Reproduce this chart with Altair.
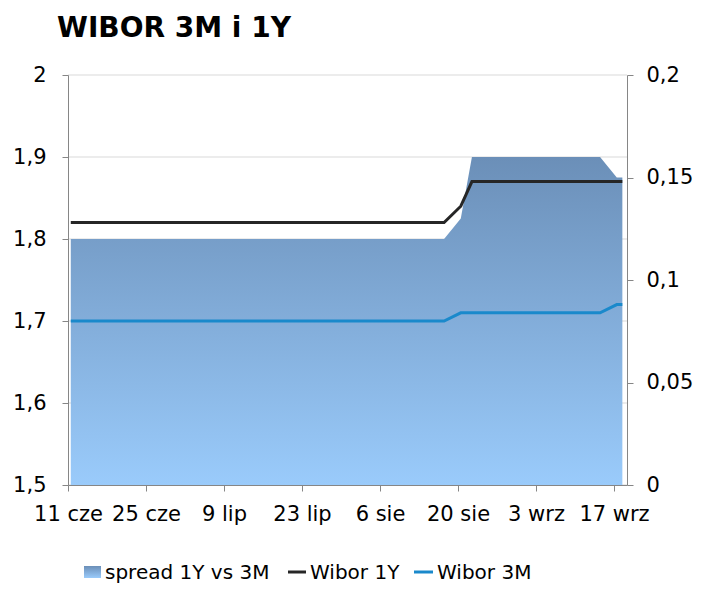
import altair as alt
import pandas as pd

# ---- data ----
dates = ["2012-06-11", "2012-08-17", "2012-08-20", "2012-08-21", "2012-08-22",
         "2012-09-14", "2012-09-17", "2012-09-18"]
wibor_1y = [1.82, 1.82, 1.84, 1.855, 1.87, 1.87, 1.87, 1.87]
wibor_3m = [1.70, 1.70, 1.71, 1.71, 1.71, 1.71, 1.72, 1.72]
spread = [0.12, 0.12, 0.13, 0.145, 0.16, 0.16, 0.15, 0.15]

series_names = ["spread 1Y vs 3M", "Wibor 1Y", "Wibor 3M"]
title_text = "WIBOR 3M i 1Y"
left_ticks = [1.5, 1.6, 1.7, 1.8, 1.9, 2.0]
right_ticks = [0, 0.05, 0.1, 0.15, 0.2]
x_tick_dates = [(2012, 6, 11), (2012, 6, 25), (2012, 7, 9), (2012, 7, 23),
                (2012, 8, 6), (2012, 8, 20), (2012, 9, 3), (2012, 9, 17)]
months_pl = ["sty", "lut", "mar", "kwi", "maj", "cze", "lip", "sie", "wrz", "paź", "lis", "gru"]

df = pd.DataFrame({"date": dates, "wibor_1y": wibor_1y, "wibor_3m": wibor_3m, "spread": spread})

FONT = "DejaVu Sans"
AXIS_GRAY = "#868686"
C_1Y = "#262626"
C_3M = "#1a89cb"
grad = alt.Gradient(
    gradient="linear",
    stops=[alt.GradientStop(color="#6b8fb8", offset=0),
           alt.GradientStop(color="#9acbfb", offset=1)],
    x1=1, x2=1, y1=0, y2=1,
)

month_arr = "[" + ",".join("'" + m + "'" for m in months_pl) + "]"
x_axis = alt.Axis(
    values=[alt.DateTime(year=y, month=m, date=d, utc=True) for (y, m, d) in x_tick_dates],
    labelExpr="utcdate(datum.value) + ' ' + " + month_arr + "[utcmonth(datum.value)]",
    orient="bottom", grid=False, tickSize=6, tickColor=AXIS_GRAY, domainColor=AXIS_GRAY,
    labelFont=FONT, labelFontSize=21, labelColor="black", labelPadding=12,
    labelOverlap=False, labelFlush=False, labelBound=False, labelAngle=0,
    title=None, zindex=1,
)
X = alt.X("t:T", scale=alt.Scale(type="utc", domain=[
    alt.DateTime(year=2012, month=6, date=11, utc=True),
    alt.DateTime(year=2012, month=9, date=19, hours=8, utc=True)]), axis=x_axis)

left_scale = alt.Scale(domain=[1.5, 2.0], nice=False, zero=False)
left_axis = alt.Axis(
    values=left_ticks, orient="left", grid=False,
    labelExpr="replace(format(datum.value, '.1~f'), '.', ',')",
    tickSize=6, tickColor=AXIS_GRAY, domainColor=AXIS_GRAY,
    labelFont=FONT, labelFontSize=21, labelColor="black", labelPadding=16,
    title=None, zindex=1,
)
right_axis = alt.Axis(
    values=right_ticks, orient="right", grid=False,
    labelExpr="replace(format(datum.value, '.2~f'), '.', ',')",
    tickSize=6, tickColor=AXIS_GRAY, domainColor=AXIS_GRAY,
    labelFont=FONT, labelFontSize=21, labelColor="black", labelPadding=13,
    title=None, zindex=1,
)

base = alt.Chart(df).transform_calculate(t="time(toDate(datum.date)) + 43200000")

grid = alt.Chart(pd.DataFrame({"v": left_ticks})).mark_rule(color="#d9d9d9", strokeWidth=1).encode(
    y=alt.Y("v:Q", scale=left_scale, axis=None))

area = base.mark_area(color=grad).encode(
    x=X, y=alt.Y("spread:Q", scale=alt.Scale(domain=[0, 0.2], nice=False), axis=right_axis))

line1 = base.mark_line(color=C_1Y, strokeWidth=3).encode(
    x=X, y=alt.Y("wibor_1y:Q", scale=left_scale, axis=left_axis))
line3 = base.mark_line(color=C_3M, strokeWidth=3).encode(
    x=X, y=alt.Y("wibor_3m:Q", scale=left_scale, axis=left_axis))
lines = alt.layer(line1, line3)

one = alt.Data(values=[{"k": 0}])

title = alt.Chart(one).mark_text(
    text=title_text, font=FONT, fontSize=28, fontWeight="bold", align="left",
    baseline="alphabetic", color="black").encode(x=alt.value(-11), y=alt.value(-38))

LEG_Y = 504
leg_swatch = alt.Chart(one).mark_rect(color=grad).encode(
    x=alt.value(16), x2=alt.value(33), y=alt.value(LEG_Y - 13), y2=alt.value(LEG_Y - 1))
leg_t1 = alt.Chart(one).mark_text(
    text=series_names[0], font=FONT, fontSize=20, align="left", baseline="alphabetic",
    color="black").encode(x=alt.value(37), y=alt.value(LEG_Y))
leg_l2 = alt.Chart(one).mark_rule(color=C_1Y, strokeWidth=3).encode(
    x=alt.value(220), x2=alt.value(238), y=alt.value(LEG_Y - 7))
leg_t2 = alt.Chart(one).mark_text(
    text=series_names[1], font=FONT, fontSize=20, align="left", baseline="alphabetic",
    color="black").encode(x=alt.value(242), y=alt.value(LEG_Y))
leg_l3 = alt.Chart(one).mark_rule(color=C_3M, strokeWidth=3).encode(
    x=alt.value(346), x2=alt.value(365), y=alt.value(LEG_Y - 7))
leg_t3 = alt.Chart(one).mark_text(
    text=series_names[2], font=FONT, fontSize=20, align="left", baseline="alphabetic",
    color="black").encode(x=alt.value(369), y=alt.value(LEG_Y))

chart = alt.layer(
    grid, area, lines, title, leg_swatch, leg_t1, leg_l2, leg_t2, leg_l3, leg_t3
).resolve_scale(y="independent").properties(
    width=559, height=410,
    autosize=alt.AutoSizeParams(type="none"),
    padding={"left": 60, "top": 67, "right": 67, "bottom": 100},
    background="white",
).configure_view(stroke=None)

chart.save("out.html", embed_options={"renderer": "svg", "actions": False})
